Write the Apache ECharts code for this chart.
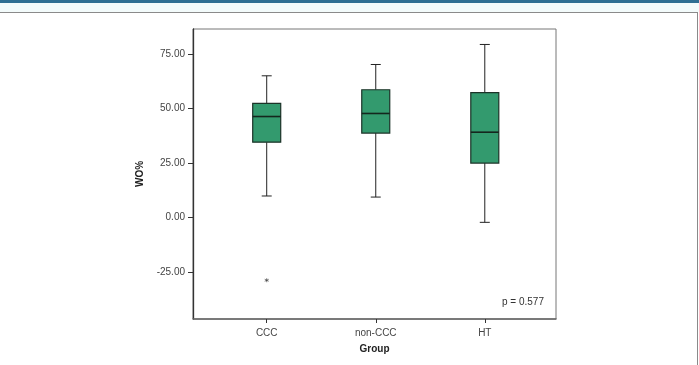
<!DOCTYPE html>
<html lang="en">
<head>
<meta charset="UTF-8">
<title>WO% by group</title>
<script src="https://cdn.jsdelivr.net/npm/echarts@6/dist/echarts.min.js"></script>
<style>
  html, body { margin: 0; padding: 0; background: #fff; }
  #main { width: 699px; height: 365px; }
</style>
</head>
<body>
<div id="main"></div>
<script>
// box summaries
var groups = ['CCC', 'non-CCC', 'HT'];
var minV = [9.8, 9.3, -2.3];
var q1V = [34.5, 38.7, 24.9];
var medV = [46.3, 47.7, 39.1];
var q3V = [52.3, 58.6, 57.3];
var maxV = [65.0, 70.2, 79.4];
var outliers = [[0, -28.9]];
var yTicks = [-25, 0, 25, 50, 75];
var pText = 'p = 0.577';

var boxData = groups.map(function (g, i) {
    return [i, minV[i], q1V[i], medV[i], q3V[i], maxV[i]];
});

function renderBox(params, api) {
    var x = api.value(0);
    var pMin = api.coord([x, api.value(1)]);
    var pQ1 = api.coord([x, api.value(2)]);
    var pMed = api.coord([x, api.value(3)]);
    var pQ3 = api.coord([x, api.value(4)]);
    var pMax = api.coord([x, api.value(5)]);
    var cx = pMed[0];
    var hw = 14, cw = 5;
    var line = { stroke: '#222', lineWidth: 1 };
    return {
        type: 'group',
        children: [
            { type: 'line', shape: { x1: cx, y1: pMax[1], x2: cx, y2: pQ3[1] }, style: line },
            { type: 'line', shape: { x1: cx, y1: pQ1[1], x2: cx, y2: pMin[1] }, style: line },
            { type: 'line', shape: { x1: cx - cw, y1: pMax[1], x2: cx + cw, y2: pMax[1] }, style: line },
            { type: 'line', shape: { x1: cx - cw, y1: pMin[1], x2: cx + cw, y2: pMin[1] }, style: line },
            { type: 'rect', shape: { x: cx - hw, y: pQ3[1], width: hw * 2, height: pQ1[1] - pQ3[1] },
              style: { fill: '#339a6e', stroke: '#1c3328', lineWidth: 1.2 } },
            { type: 'line', shape: { x1: cx - hw, y1: pMed[1], x2: cx + hw, y2: pMed[1] },
              style: { stroke: '#14261d', lineWidth: 1.6 } }
        ]
    };
}

var chart = echarts.init(document.getElementById('main'));
chart.setOption({
    animation: false,
    textStyle: { fontFamily: 'Liberation Sans, Arial, sans-serif' },
    grid: {
        left: 193, right: 143, top: 29, bottom: 46,
        show: true, borderColor: '#777', borderWidth: 1
    },
    xAxis: {
        type: 'value',
        min: -0.676,
        max: 2.653,
        splitLine: { show: false },
        axisLine: { onZero: false, lineStyle: { color: '#666', width: 1.5 } },
        axisTick: { show: true, customValues: [0, 1, 2], length: 4, lineStyle: { color: '#333' } },
        axisLabel: {
            customValues: [0, 1, 2],
            formatter: function (v) { return groups[Math.round(v)]; },
            color: '#444', fontSize: 10, margin: 9
        },
        name: 'Group',
        nameLocation: 'middle',
        nameGap: 25,
        nameTextStyle: { fontWeight: 'bold', fontSize: 10, color: '#222' }
    },
    yAxis: {
        type: 'value',
        min: -46.7,
        max: 86.5,
        splitLine: { show: false },
        axisLine: { show: true, onZero: false, lineStyle: { color: '#333', width: 1.3 } },
        axisTick: { show: true, customValues: yTicks, length: 5, lineStyle: { color: '#333' } },
        axisLabel: {
            customValues: yTicks,
            formatter: function (v) { return v.toFixed(2); },
            color: '#444', fontSize: 10, margin: 8
        },
        name: 'WO%',
        nameLocation: 'middle',
        nameGap: 46,
        nameRotate: 90,
        nameTextStyle: { fontWeight: 'bold', fontSize: 10, color: '#222' }
    },
    series: [
        {
            type: 'custom',
            renderItem: renderBox,
            encode: { x: 0, y: [1, 2, 3, 4, 5] },
            data: boxData
        },
        {
            type: 'scatter',
            symbol: 'path://M0,-1L0,1M-0.87,-0.5L0.87,0.5M-0.87,0.5L0.87,-0.5',
            symbolSize: 4,
            itemStyle: { color: 'none', borderColor: '#333', borderWidth: 0.8 },
            data: outliers
        }
    ],
    graphic: [
        { type: 'rect', left: 0, top: 0, shape: { width: 699, height: 3 }, style: { fill: '#2f6f93' } },
        { type: 'rect', left: 0, top: 3, shape: { width: 699, height: 9 }, style: { fill: '#f3fbfb' } },
        { type: 'line', shape: { x1: 0, y1: 12.5, x2: 698, y2: 12.5 }, style: { stroke: '#8a8a8a', lineWidth: 1 } },
        { type: 'line', shape: { x1: 697.5, y1: 12, x2: 697.5, y2: 365 }, style: { stroke: '#8a8a8a', lineWidth: 1 } },
        { type: 'text', left: 502, top: 297, style: { text: pText, fontSize: 10, fill: '#333', fontFamily: 'Liberation Sans, Arial, sans-serif' } }
    ]
});
</script>
</body>
</html>
